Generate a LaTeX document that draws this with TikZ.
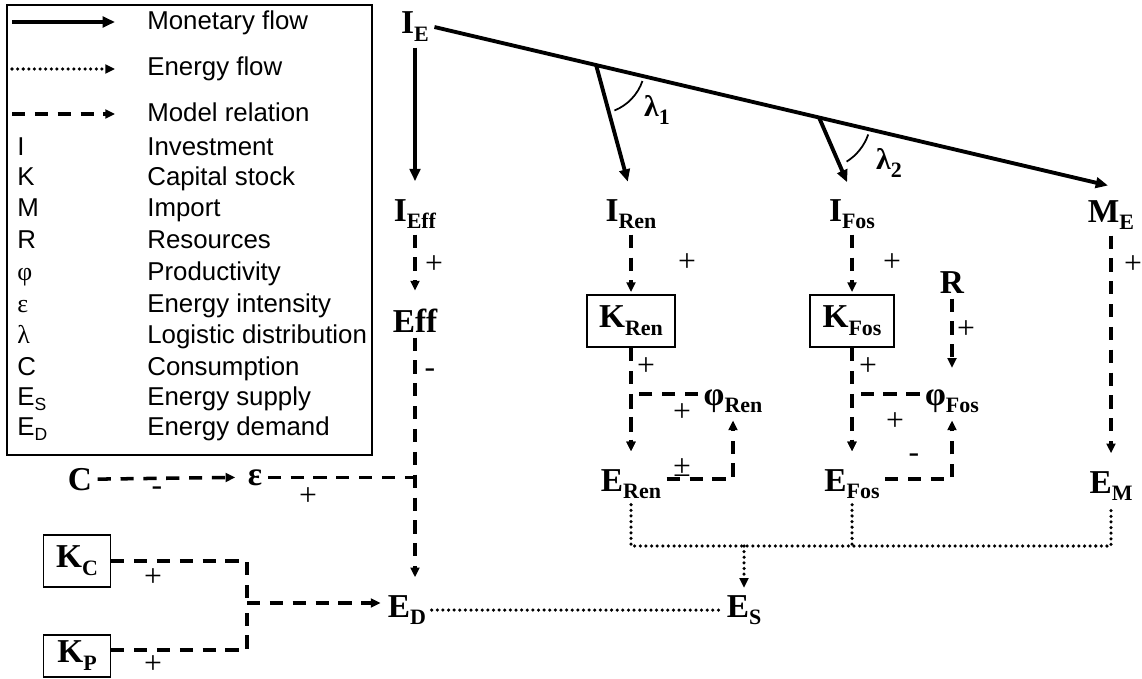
\documentclass[tikz,border=0pt]{standalone}
\usepackage{fontspec}
\setmainfont{Liberation Serif}
\setsansfont{Liberation Sans}
\usepackage{tikz}
\usetikzlibrary{arrows.meta, positioning, calc}

\newcommand{\varsub}[2]{\textbf{#1}\raisebox{-4.5pt}{\fontsize{12.5}{14}\selectfont\textbf{#2}}}
\newcommand{\legsub}[2]{#1\raisebox{-3pt}{\fontsize{10}{12}\selectfont #2}}

\tikzset{
  var/.style={font=\fontsize{19}{22}\selectfont\bfseries, inner sep=3pt, anchor=base},
  stock/.style={draw, line width=1pt, inner xsep=7pt, minimum height=30pt,
                font=\fontsize{19}{22}\selectfont\bfseries},
  sign/.style={font=\fontsize{18}{20}\selectfont, inner sep=0pt},
  leg/.style={font=\sffamily\fontsize{14.7}{17}\selectfont, anchor=base west, inner sep=0pt},
  money/.style={line width=2.2pt, -{Triangle[length=7pt,width=6pt]}},
  model/.style={line width=2pt, dash pattern=on 7.5pt off 5.5pt, -{Triangle[length=5.5pt,width=5pt]}},
  energy/.style={line width=2pt, line cap=round, dash pattern=on 0pt off 3.2pt},
}

\begin{document}
\begin{tikzpicture}[x=0.02cm, y=0.02cm]
  \useasboundingbox (0,0) rectangle (1142,-679);

  % legend
  \draw[line width=0.8pt] (7,-5) rectangle (372,-455);
  \coordinate (lm1) at (12,-22);  \coordinate (lm2) at (115,-22);
  \coordinate (le1) at (12,-69);  \coordinate (le2) at (115,-69);
  \coordinate (ld1) at (12,-114); \coordinate (ld2) at (115,-114);
  \draw[money] (lm1) -- (lm2);
  \draw[energy, -{Triangle[length=5.5pt,width=5pt]}] (le1) -- (le2);
  \draw[model] (ld1) -- (ld2);

  \node[leg] (tMon) at (147,-30)  {Monetary flow};
  \node[leg] (tEn)  at (147,-76)  {Energy flow};
  \node[leg] (tMod) at (147,-121) {Model relation};
  \node[leg] (tI)   at (147,-155) {Investment};
  \node[leg] (tK)   at (147,-185) {Capital stock};
  \node[leg] (tM)   at (147,-216) {Import};
  \node[leg] (tR)   at (147,-248) {Resources};
  \node[leg] (tPhi) at (147,-280) {Productivity};
  \node[leg] (tEps) at (147,-312) {Energy intensity};
  \node[leg] (tLam) at (147,-343) {Logistic distribution};
  \node[leg] (tC)   at (147,-375) {Consumption};
  \node[leg] (tES)  at (147,-405) {Energy supply};
  \node[leg] (tED)  at (147,-435) {Energy demand};

  \node[leg] (sI)   at (17,-155) {I};
  \node[leg] (sK)   at (17,-185) {K};
  \node[leg] (sM)   at (17,-216) {M};
  \node[leg] (sR)   at (17,-248) {R};
  \node[leg] (sPhi) at (17,-280) {\rmfamily φ};
  \node[leg] (sEps) at (17,-312) {\rmfamily ε};
  \node[leg] (sLam) at (17,-343) {\rmfamily λ};
  \node[leg] (sC)   at (17,-375) {C};
  \node[leg] (sES)  at (17,-405) {\legsub{E}{S}};
  \node[leg] (sED)  at (17,-435) {\legsub{E}{D}};

  % variables
  \node[var] (IE)     at (415,-34)  {\varsub{I}{E}};
  \node[var] (IEff)   at (415,-221) {\varsub{I}{Eff}};
  \node[var] (IRen)   at (631,-221) {\varsub{I}{Ren}};
  \node[var] (IFos)   at (852,-221) {\varsub{I}{Fos}};
  \node[var] (ME)     at (1111,-222) {\varsub{M}{E}};
  \node[var] (Eff)    at (415,-332) {Eff};
  \node[stock] (KRen) at (631,-321) {\varsub{K}{Ren}};
  \node[stock] (KFos) at (852,-321) {\varsub{K}{Fos}};
  \node[var] (R)      at (952,-293) {R};
  \node[var] (phiRen) at (733,-405) {\varsub{φ}{Ren}};
  \node[var] (phiFos) at (952,-405) {\varsub{φ}{Fos}};
  \node[var] (ERen)   at (631,-491) {\varsub{E}{Ren}};
  \node[var] (EFos)   at (852,-491) {\varsub{E}{Fos}};
  \node[var] (EM)     at (1111,-493) {\varsub{E}{M}};
  \node[var] (C)      at (80,-490)  {C};
  \node[var] (eps)    at (255,-485) {ε};
  \node[stock, minimum width=38pt] (KC) at (77,-561) {\varsub{K}{C}};
  \node[stock, minimum width=38pt, minimum height=24pt] (KP) at (77,-656) {\varsub{K}{P}};
  \node[var] (ED)     at (407,-617) {\varsub{E}{D}};
  \node[var] (ES)     at (744,-617) {\varsub{E}{S}};

  \node[var, font=\fontsize{17}{20}\selectfont\bfseries, anchor=center] (lam1) at (657,-110) {\varsub{λ}{1}};
  \node[var, font=\fontsize{17}{20}\selectfont\bfseries, anchor=center] (lam2) at (889,-163) {\varsub{λ}{2}};

  \coordinate (mEnd) at ($(ME.north)+(-3,9)$);
  \coordinate (b1) at ($(IE.east)!0.24!(mEnd)$);
  \coordinate (b2) at ($(IE.east)!0.571!(mEnd)$);
  \coordinate (ej) at (744,-546);
  \coordinate (kj) at (247,-603);

  % monetary flows
  \draw[money] (IE.east) -- (mEnd);
  \draw[money, shorten >=7pt] (IE.south) -- (IE.south |- IEff.north);
  \draw[money, shorten >=7pt] (b1) -- (IRen.north);
  \draw[money, shorten >=7pt] (b2) -- (IFos.north);
  \draw[line width=1pt] (b1) ++(-68:49) arc[start angle=-68, end angle=-19, radius=49];
  \draw[line width=1pt] (b2) ++(-58:52) arc[start angle=-58, end angle=-19, radius=52];

  % model relations
  \draw[model, shorten >=7pt] (IEff.south) -- (Eff.north);
  \draw[model, shorten >=7pt] (Eff.south) -- (Eff.south |- ED.north);
  \draw[model, shorten >=1pt] (IRen.south) -- (KRen.north);
  \draw[model, shorten >=1pt] (IFos.south) -- (KFos.north);
  \draw[model, shorten >=7pt] (KRen.south) -- (ERen.north);
  \draw[model, shorten >=7pt] (KFos.south) -- (EFos.north);
  \draw[model, shorten >=7pt] ([yshift=4pt]phiRen.west) -| (ERen.north);
  \draw[model, shorten >=7pt] ([yshift=4pt]phiFos.west) -| (EFos.north);
  \draw[model, shorten >=1pt] ([yshift=3pt]ERen.east) -| (phiRen.south);
  \draw[model, shorten >=1pt] ([yshift=3pt]EFos.east) -| (phiFos.south);
  \draw[model, shorten >=9pt] (R.south) -- (phiFos.north);
  \draw[model, shorten >=7pt] (ME.south) -- (EM.north);
  \draw[model, shorten >=4pt] (C.east) -- (eps.west);
  \draw[model, -] (eps.east) -- (eps.east -| Eff.south);
  \draw[model, -] (KC.east) -| (kj);
  \draw[model, -] ([yshift=3.5pt]KP.east) -| (kj);
  \draw[model, shorten >=1pt] (kj) -- (kj -| ED.west);

  % energy flows
  \draw[energy] (ED.east) -- (ES.west);
  \draw[energy] (ERen.south) |- (ej) -| (EM.south);
  \draw[energy] (EFos.south) -- (EFos.south |- ej);
  \draw[energy, -{Triangle[length=5.5pt,width=5pt]}, shorten >=1pt] (ej) -- (ES.north);

  % signs
  \node[sign] (sg1)  at (434,-265) {+};
  \node[sign] (sg2)  at (430,-373) {-};
  \node[sign] (sg3)  at (687,-263) {+};
  \node[sign] (sg4)  at (892,-263) {+};
  \node[sign] (sg5)  at (1133,-265) {+};
  \node[sign] (sg6)  at (966,-330) {+};
  \node[sign] (sg7)  at (646,-367) {+};
  \node[sign] (sg8)  at (868,-367) {+};
  \node[sign] (sg9)  at (682,-413) {+};
  \node[sign] (sg10) at (895,-422) {+};
  \node[sign] (sg11) at (682,-468) {±};
  \node[sign] (sg12) at (914,-458) {-};
  \node[sign] (sg13) at (157,-491) {-};
  \node[sign] (sg14) at (308,-497) {+};
  \node[sign] (sg15) at (153,-578) {+};
  \node[sign] (sg16) at (153,-665) {+};
\end{tikzpicture}
\end{document}
